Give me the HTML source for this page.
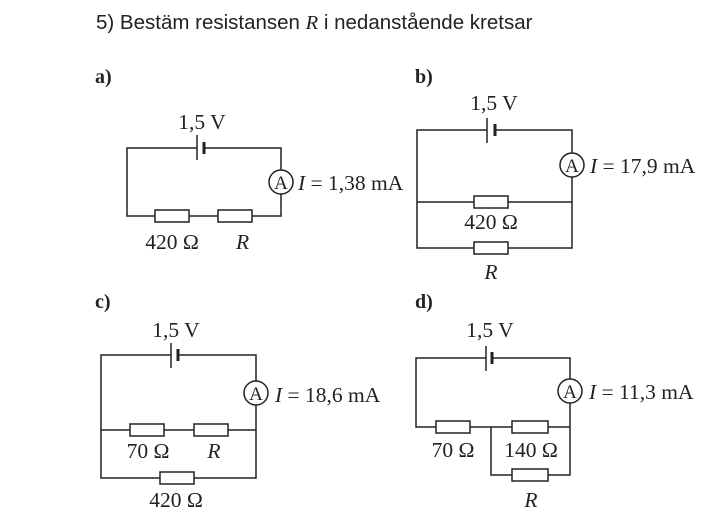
<!DOCTYPE html>
<html><head><meta charset="utf-8"><style>
body{margin:0;background:#fff;width:703px;height:515px;overflow:hidden}
svg text{font-family:"Liberation Serif",serif;fill:#222}
</style></head><body>
<svg width="703" height="515" xmlns="http://www.w3.org/2000/svg">
<text x="96" y="29" font-size="20.5" style="font-family:'Liberation Sans',sans-serif">5)  Bestäm resistansen <tspan font-style="italic" style="font-family:'Liberation Serif',serif">R</tspan> i nedanstående kretsar</text>
<g font-size="20" font-weight="bold">
<text x="95" y="83">a)</text><text x="415" y="83">b)</text>
<text x="95" y="308">c)</text><text x="415" y="308">d)</text>
</g>
<g stroke="#222" stroke-width="1.5" fill="none">
<path d="M197 148H127V216H155M189 216H218M252 216H281V194M281 170V148H204"/>
<line x1="197" y1="135" x2="197" y2="160"/><line x1="204" y1="142" x2="204" y2="154" stroke-width="3"/>
<circle cx="281" cy="182" r="12"/>
<rect x="155" y="210" width="34" height="12"/><rect x="218" y="210" width="34" height="12"/>
<path d="M487 130H417V248H474M508 248H572V177M572 153V130H495M417 202H474M508 202H572"/>
<line x1="487" y1="118" x2="487" y2="143"/><line x1="495" y1="124" x2="495" y2="136" stroke-width="3"/>
<circle cx="572" cy="165" r="12"/>
<rect x="474" y="196" width="34" height="12"/><rect x="474" y="242" width="34" height="12"/>
<path d="M171 355H101V478H160M194 478H256V405M256 381V355H178M101 430H130M164 430H194M228 430H256"/>
<line x1="171" y1="343" x2="171" y2="368"/><line x1="178" y1="349" x2="178" y2="361" stroke-width="3"/>
<circle cx="256" cy="393" r="12"/>
<rect x="130" y="424" width="34" height="12"/><rect x="194" y="424" width="34" height="12"/><rect x="160" y="472" width="34" height="12"/>
<path d="M486 358H416V427H436M470 427H512M548 427H570V403M570 379V358H492M491 427V475H512M548 475H570V427"/>
<line x1="486" y1="346" x2="486" y2="371"/><line x1="492" y1="352" x2="492" y2="364" stroke-width="3"/>
<circle cx="570" cy="391" r="12"/>
<rect x="436" y="421" width="34" height="12"/><rect x="512" y="421" width="36" height="12"/><rect x="512" y="469" width="36" height="12"/>
</g>
<g font-size="21.5">
<text x="202" y="129" text-anchor="middle">1,5 V</text>
<text x="281" y="189" text-anchor="middle" font-size="19">A</text>
<text x="298" y="190"><tspan font-style="italic">I</tspan> = 1,38 mA</text>
<text x="172" y="249" text-anchor="middle">420 Ω</text>
<text x="236" y="249" font-style="italic">R</text>

<text x="494" y="110" text-anchor="middle">1,5 V</text>
<text x="572" y="172" text-anchor="middle" font-size="19">A</text>
<text x="590" y="173"><tspan font-style="italic">I</tspan> = 17,9 mA</text>
<text x="491" y="229" text-anchor="middle">420 Ω</text>
<text x="491" y="279" text-anchor="middle" font-style="italic">R</text>

<text x="176" y="337" text-anchor="middle">1,5 V</text>
<text x="256" y="400" text-anchor="middle" font-size="19">A</text>
<text x="275" y="402"><tspan font-style="italic">I</tspan> = 18,6 mA</text>
<text x="148" y="458" text-anchor="middle">70 Ω</text>
<text x="214" y="458" text-anchor="middle" font-style="italic">R</text>
<text x="176" y="507" text-anchor="middle">420 Ω</text>

<text x="490" y="337" text-anchor="middle">1,5 V</text>
<text x="570" y="398" text-anchor="middle" font-size="19">A</text>
<text x="589" y="399"><tspan font-style="italic">I</tspan> = 11,3 mA</text>
<text x="453" y="457" text-anchor="middle">70 Ω</text>
<text x="531" y="457" text-anchor="middle">140 Ω</text>
<text x="531" y="507" text-anchor="middle" font-style="italic">R</text>
</g>
</svg>
</body></html>
